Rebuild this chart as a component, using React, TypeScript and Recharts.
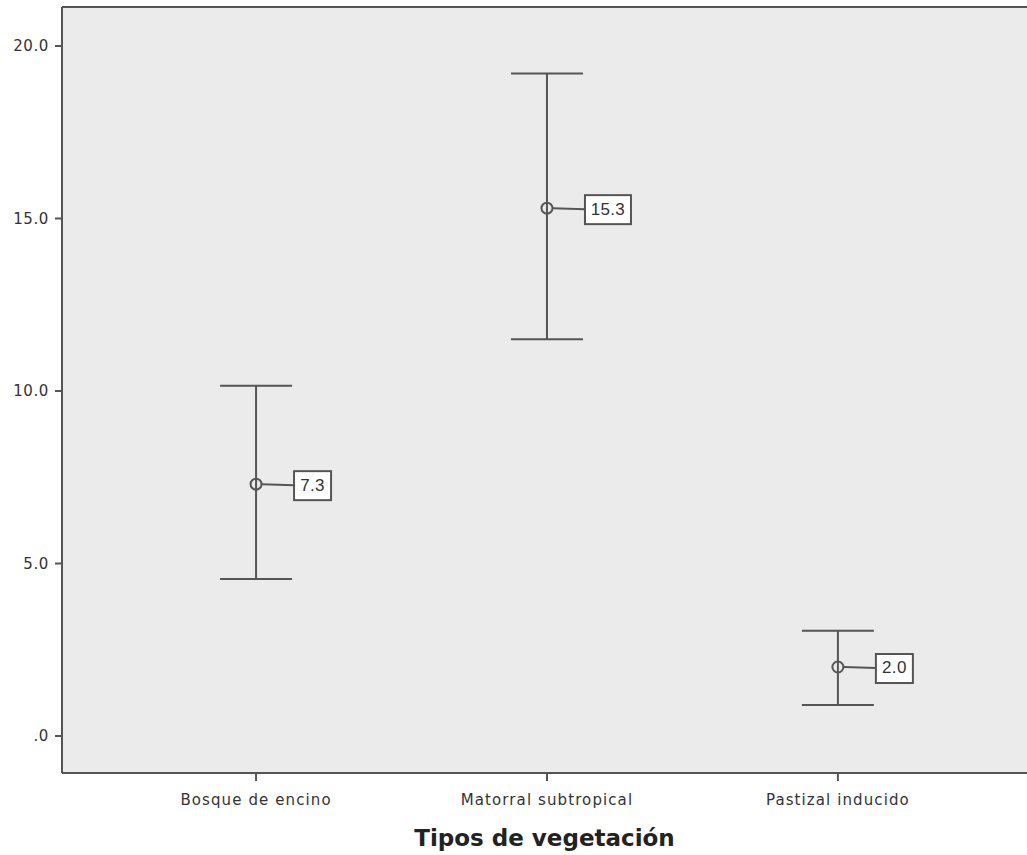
import React from 'react';
import { ComposedChart, Scatter, ErrorBar, XAxis, YAxis, CartesianGrid, Label } from 'recharts';

const categories = ['Bosque de encino', 'Matorral subtropical', 'Pastizal inducido'];
const means = [7.3, 15.3, 2.0];
const lowerCI = [4.55, 11.5, 0.9];
const upperCI = [10.15, 19.2, 3.05];
const yTicks = [0, 5, 10, 15, 20];

const data = categories.map((c, i) => ({
  x: i,
  name: c,
  mean: means[i],
  err: [means[i] - lowerCI[i], upperCI[i] - means[i]],
}));

const LINE = '#555555';
const FONT = '"DejaVu Sans", "Liberation Sans", Arial, sans-serif';

const PointShape = (props: any) => {
  const { cx, cy, payload } = props;
  if (cx == null || cy == null) return null;
  const label = payload.mean.toFixed(1);
  const boxX = cx + 38;
  const w = label.length * 9 + 10;
  const h = 29;
  return (
    <g>
      <line x1={cx + 6} y1={cy} x2={boxX} y2={cy + 1} stroke={LINE} strokeWidth={2} />
      <circle cx={cx} cy={cy} r={5.5} fill="none" stroke={LINE} strokeWidth={2} />
      <rect x={boxX} y={cy - 13} width={w} height={h} fill="#ffffff" stroke={LINE} strokeWidth={2} />
      <text
        x={boxX + w / 2}
        y={cy + 2}
        textAnchor="middle"
        dominantBaseline="middle"
        fontFamily='"Liberation Sans", Arial, sans-serif'
        fontSize={17}
        letterSpacing={0.3}
        fill="#333"
      >
        {label}
      </text>
    </g>
  );
};

export default function App() {
  return (
    <div style={{ position: 'fixed', left: 0, top: 0, width: 1027, height: 855, background: '#fff' }}>
      <ComposedChart width={1027} height={855} data={data} margin={{ top: 0, right: 0, bottom: 0, left: 0 }}>
        <CartesianGrid fill="#ebebeb" stroke="none" horizontal={false} vertical={false} />
        <XAxis
          xAxisId="top"
          orientation="top"
          type="number"
          dataKey="x"
          domain={[-0.667, 2.65]}
          height={7}
          tick={false}
          tickLine={false}
          axisLine={{ stroke: LINE, strokeWidth: 2 }}
        />
        <XAxis
          type="number"
          dataKey="x"
          domain={[-0.667, 2.65]}
          ticks={[0, 1, 2]}
          allowDataOverflow
          tickFormatter={(v: number) => categories[v] ?? ''}
          height={82}
          tickSize={8}
          tickMargin={13}
          tickLine={{ stroke: LINE, strokeWidth: 2 }}
          axisLine={{ stroke: LINE, strokeWidth: 2 }}
          tick={{ fontFamily: FONT, fontSize: 15, fill: '#333', letterSpacing: 1.1 }}
        >
          <Label
            value="Tipos de vegetación"
            position="insideBottom"
            offset={9}
            style={{ fontFamily: '"DejaVu Sans", sans-serif', fontWeight: 'bold', fontSize: 23, fill: '#222' }}
          />
        </XAxis>
        <YAxis
          type="number"
          domain={[-1.072, 21.13]}
          ticks={yTicks}
          allowDataOverflow
          width={62}
          tickSize={7}
          tickMargin={6}
          tickFormatter={(v: number) => (v === 0 ? '.0' : v.toFixed(1))}
          tickLine={{ stroke: LINE, strokeWidth: 2 }}
          axisLine={{ stroke: LINE, strokeWidth: 2 }}
          tick={{ fontFamily: FONT, fontSize: 15, fill: '#333', letterSpacing: 0.6 }}
        />
        <Scatter dataKey="mean" shape={<PointShape />} isAnimationActive={false}>
          <ErrorBar dataKey="err" direction="y" width={36} stroke={LINE} strokeWidth={2} />
        </Scatter>
      </ComposedChart>
    </div>
  );
}
